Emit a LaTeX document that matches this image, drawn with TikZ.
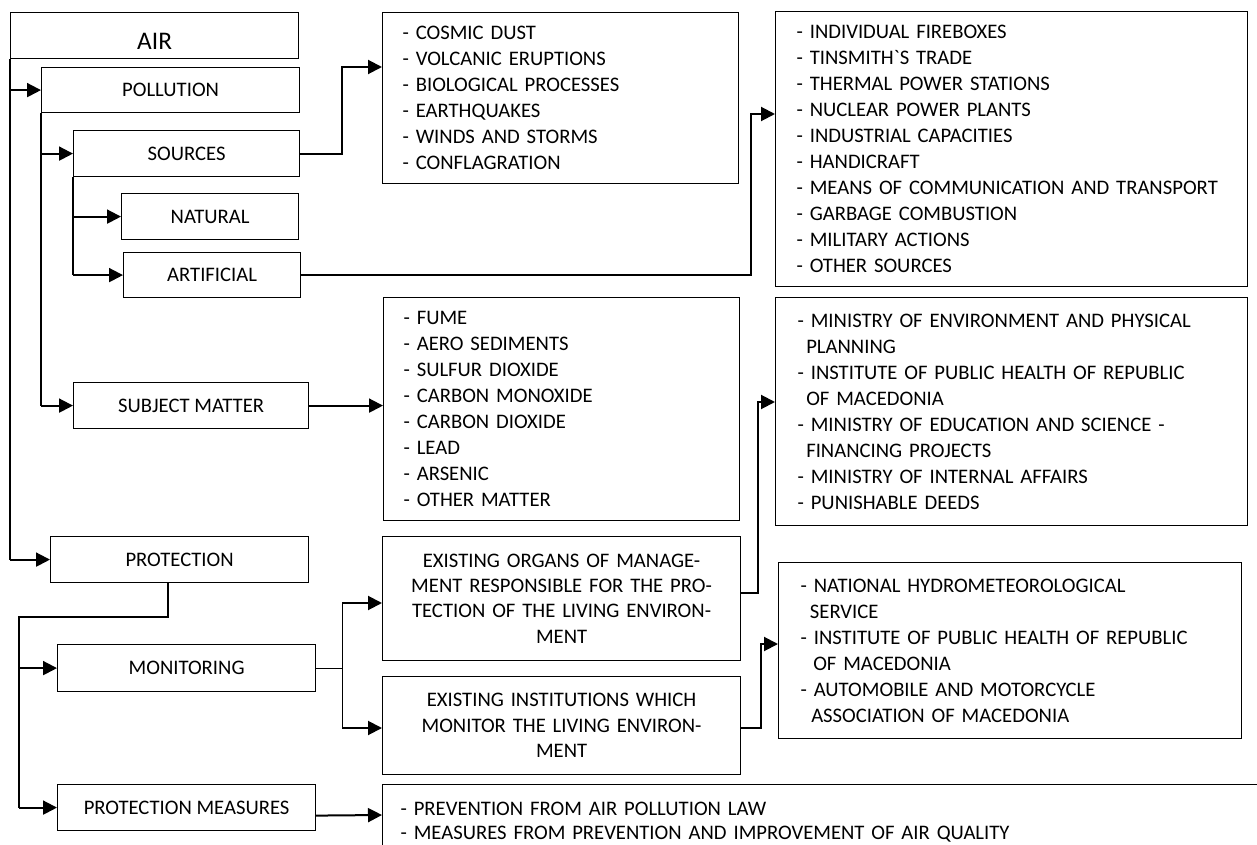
\documentclass[tikz,border=0pt]{standalone}
\usepackage{fontspec}
\setmainfont{Carlito}[Ligatures=TeXOff]
\usetikzlibrary{arrows.meta,calc}

\begin{document}
\begin{tikzpicture}[x=0.75pt,y=-0.75pt,
  txt/.style={font=\fontsize{15.5}{19.5}\selectfont},
  box/.style={txt, draw=black, line width=0.9pt, anchor=north west, inner sep=0pt, align=center},
  listbox/.style={txt, draw=black, line width=0.9pt, anchor=north west, inner ysep=0pt, align=left},
  trunk/.style={line width=0.9pt},
  arr/.style={line width=1.5pt, -{Triangle[length=10.5pt,width=10.5pt]}},
]
\useasboundingbox (0,0) rectangle (1257,845);
\clip (0,0) rectangle (1257,845);

% left column
\node[box, minimum width=216pt, minimum height=34.5pt, font=\fontsize{19}{23}\selectfont] (air) at (10,12) {\raisebox{-4pt}[\height][\depth]{AIR}};
\node[box, minimum width=193.5pt, minimum height=33.75pt] (poll) at (41,67) {POLLUTION};
\node[box, minimum width=169.5pt, minimum height=34.5pt] (src) at (73,130) {SOURCES};
\node[box, minimum width=132.75pt, minimum height=34.5pt] (nat) at (121,193) {NATURAL};
\node[box, minimum width=132.75pt, minimum height=33.75pt] (art) at (123,252) {ARTIFICIAL};
\node[box, minimum width=176.25pt, minimum height=34.5pt] (subj) at (73,382) {SUBJECT MATTER};
\node[box, minimum width=193.5pt, minimum height=34.5pt] (prot) at (50,536) {PROTECTION};
\node[box, minimum width=193.5pt, minimum height=35.25pt] (mon) at (57,644) {MONITORING};
\node[box, minimum width=193.5pt, minimum height=34.5pt] (meas) at (57,784) {PROTECTION MEASURES};

% middle column
\node[listbox, inner xsep=15pt, text width=237pt, minimum height=128.25pt] (cosmic) at (382,12)
  {- COSMIC DUST\\- VOLCANIC ERUPTIONS\\- BIOLOGICAL PROCESSES\\- EARTHQUAKES\\- WINDS AND STORMS\\- CONFLAGRATION};
\node[listbox, inner xsep=15pt, text width=237pt, minimum height=167.25pt] (fume) at (383,297)
  {- FUME\\- AERO SEDIMENTS\\- SULFUR DIOXIDE\\- CARBON MONOXIDE\\- CARBON DIOXIDE\\- LEAD\\- ARSENIC\\- OTHER MATTER};
\node[box, text width=260pt, minimum width=268.5pt, minimum height=93pt, font=\fontsize{15.5}{19}\selectfont] (org) at (382,536)
  {EXISTING ORGANS OF MANAGE-\\MENT RESPONSIBLE FOR THE PRO-\\TECTION OF THE LIVING ENVIRON-\\MENT};
\node[box, text width=260pt, minimum width=268.5pt, minimum height=73.5pt, font=\fontsize{15.5}{19}\selectfont] (inst) at (382,676)
  {EXISTING INSTITUTIONS WHICH\\MONITOR THE LIVING ENVIRON-\\MENT};
\node[listbox, inner xsep=13.5pt, text width=673pt, minimum height=57pt, font=\fontsize{15.5}{18}\selectfont] (law) at (382,784)
  {- PREVENTION FROM AIR POLLUTION LAW\\- MEASURES FROM PREVENTION AND IMPROVEMENT OF AIR QUALITY};

% right column
\node[listbox, inner xsep=15.75pt, text width=322.5pt, minimum height=206.25pt] (fire) at (775,11)
  {- INDIVIDUAL FIREBOXES\\- TINSMITH`S TRADE\\- THERMAL POWER STATIONS\\- NUCLEAR POWER PLANTS\\- INDUSTRIAL CAPACITIES\\- HANDICRAFT\\- MEANS OF COMMUNICATION AND TRANSPORT\\- GARBAGE COMBUSTION\\- MILITARY ACTIONS\\- OTHER SOURCES};
\node[listbox, inner xsep=16.5pt, text width=321pt, minimum height=171pt] (min) at (775,297)
  {- MINISTRY OF ENVIRONMENT AND PHYSICAL\\\hspace*{6.5pt}PLANNING\\- INSTITUTE OF PUBLIC HEALTH OF REPUBLIC\\\hspace*{6.5pt}OF MACEDONIA\\- MINISTRY OF EDUCATION AND SCIENCE -\\\hspace*{6.5pt}FINANCING PROJECTS\\- MINISTRY OF INTERNAL AFFAIRS\\- PUNISHABLE DEEDS};
\node[listbox, inner xsep=16.5pt, text width=314.25pt, minimum height=132pt] (hyd) at (778,562)
  {- NATIONAL HYDROMETEOROLOGICAL\\\hspace*{7pt}SERVICE\\- INSTITUTE OF PUBLIC HEALTH OF REPUBLIC\\\hspace*{9.5pt}OF MACEDONIA\\- AUTOMOBILE AND MOTORCYCLE\\\hspace*{8pt}ASSOCIATION OF MACEDONIA};

% AIR branch
\draw[trunk] (air.south west) -- (air.south west |- prot.west);
\draw[arr] (air.south west |- poll.west) -- (poll.west);
\draw[arr] (air.south west |- prot.west) -- (prot.west);

% POLLUTION branch
\draw[trunk] (poll.south west) -- (poll.south west |- subj.west);
\draw[arr] (poll.south west |- src.west) -- (src.west);
\draw[arr] (poll.south west |- subj.west) -- (subj.west);

% SOURCES branch
\draw[trunk] (src.south west) -- (src.south west |- art.west);
\draw[arr] (src.south west |- nat.west) -- (nat.west);
\draw[arr] (src.south west |- art.west) -- (art.west);

\draw[arr] (src.east) -- ++(42,0) |- ($(cosmic.north west)+(0,55)$);
\draw[arr] (art.east) -| ($(fire.north west)+(-24,103)$) -- ($(fire.north west)+(0,103)$);
\draw[arr] (subj.east) -- (subj.east -| fume.west);

% PROTECTION branch
\coordinate (knee) at (19,617);
\draw[trunk] ($(prot.south west)+(118,0)$) |- (knee) -- (knee |- meas.west);
\draw[arr] (knee |- mon.west) -- (mon.west);
\draw[arr] (knee |- meas.west) -- (meas.west);

% MONITORING split
\coordinate (split) at ($(mon.east)+(26,0)$);
\draw[trunk] (mon.east) -- (split);
\draw[trunk] ($(split |- org.north)+(0,67)$) -- ($(split |- inst.north)+(0,52)$);
\draw[arr] ($(split |- org.north)+(0,67)$) -- ($(org.north west)+(0,67)$);
\draw[arr] ($(split |- inst.north)+(0,52)$) -- ($(inst.north west)+(0,52)$);

\draw[arr] ($(meas.east)+(0,8)$) -- ($(law.north west)+(0,31)$);
\draw[arr] ($(org.north east)+(0,57)$) -| ($(min.north west)+(-17,105)$) -- ($(min.north west)+(0,105)$);
\draw[arr] ($(inst.north east)+(0,52)$) -| ($(hyd.north west)+(-17,82)$) -- ($(hyd.north west)+(0,82)$);
\end{tikzpicture}
\end{document}
